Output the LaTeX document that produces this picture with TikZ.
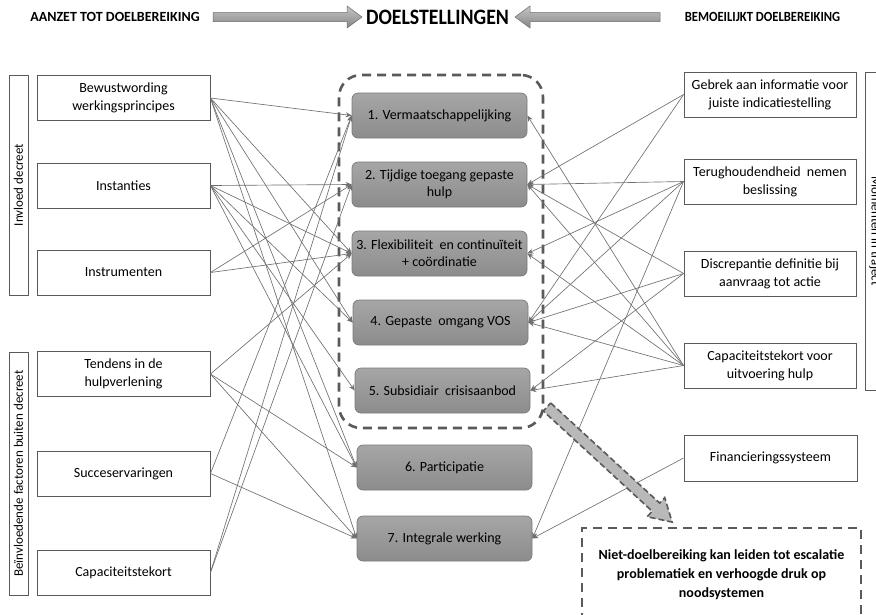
\documentclass[tikz,border=0pt]{standalone}
\usepackage{fontspec}
\setmainfont{Carlito}
\usetikzlibrary{arrows.meta}
\definecolor{edgec}{HTML}{707070}
\definecolor{boxc}{HTML}{5A5A5A}
\definecolor{dashc}{HTML}{5A5A5A}
\definecolor{ctop}{HTML}{A6A6A6}
\definecolor{cbot}{HTML}{8C8C8C}
\definecolor{cdraw}{HTML}{7A7A7A}
\begin{document}
\begin{tikzpicture}[x=1pt,y=-1pt,
  lbox/.style={draw=boxc, line width=0.9pt, fill=white, minimum width=173pt, minimum height=45pt, inner sep=1pt, align=center, font=\fontsize{14}{18}\selectfont},
  rbox/.style={lbox, minimum width=172pt},
  cbox/.style={draw=cdraw, line width=0.7pt, top color=ctop, bottom color=cbot, rounded corners=6pt, minimum width=175pt, minimum height=45pt, inner sep=1pt, align=center, font=\fontsize{14}{17}\selectfont},
  sbox/.style={draw=boxc, line width=0.9pt, fill=white, minimum height=19pt, inner sep=0pt, font=\fontsize{13}{15}\selectfont},
  conn/.style={draw=edgec, line width=0.65pt, -{Stealth[length=6pt,width=5pt]}},
  hdr/.style={font=\fontsize{14}{16}\selectfont\bfseries, inner sep=0pt},
  blockarrow/.style={draw=gray!85!black, line width=0.5pt, top color=gray!45, bottom color=gray!95, middle color=gray!70}
]
\useasboundingbox (0,0) rectangle (876,614);
\clip (0,0) rectangle (876,614);
\fill[white] (0,0) rectangle (876,614);

% header
\node[hdr] (aanzet) at (115,17) {AANZET TOT DOELBEREIKING};
\node[hdr, font=\fontsize{22}{24}\selectfont\bfseries, xscale=0.9] (doel) at (437.5,17) {DOELSTELLINGEN};
\node[hdr, xscale=0.9] (bemo) at (762.5,17) {BEMOEILIJKT DOELBEREIKING};
\draw[blockarrow] (213,12.5) -- (347,12.5) -- (347,6) -- (362,17) -- (347,28) -- (347,21.5) -- (213,21.5) -- cycle;
\draw[blockarrow] (660,12.5) -- (530,12.5) -- (530,6) -- (515,17) -- (530,28) -- (530,21.5) -- (660,21.5) -- cycle;

% side labels
\node[sbox, rotate=90, minimum width=220pt] (sl1) at (18.5,185) {Invloed decreet};
\node[sbox, rotate=90, minimum width=243pt] (sl2) at (18.5,473.5) {Beïnvloedende factoren buiten decreet};
\node[sbox, rotate=-90, minimum width=318pt, minimum height=20pt] (sr) at (875,231) {Momenten in traject};

% dashed container
\node[draw=dashc, line width=2.6pt, dash pattern=on 9pt off 6pt, rounded corners=22pt, minimum width=204pt, minimum height=353pt] (grp) at (441,251.5) {};

% left boxes
\node[lbox] (bew) at (123.5,98) {Bewustwording\\werkingsprincipes};
\node[lbox] (ins) at (123.5,185.5) {Instanties};
\node[lbox] (instr) at (123.5,272.5) {Instrumenten};
\node[lbox] (tend) at (123.5,374) {Tendens in de\\hulpverlening};
\node[lbox] (succ) at (123.5,473.5) {Succeservaringen};
\node[lbox] (capl) at (123.5,572.5) {Capaciteitstekort};

% right boxes
\node[rbox] (geb) at (770,94.5) {Gebrek aan informatie voor\\juiste indicatiestelling};
\node[rbox] (ter) at (770,181.5) {Terughoudendheid\ \ nemen\\beslissing};
\node[rbox] (dis) at (770,273.5) {Discrepantie\ definitie bij\\aanvraag tot actie};
\node[rbox] (capr) at (770,365.5) {Capaciteitstekort voor\\uitvoering hulp};
\node[rbox, minimum width=173pt, minimum height=46pt] (fin) at (770.5,458) {Financieringssysteem};

% centre boxes
\node[cbox] (c1) at (439.5,115.5) {1. Vermaatschappelijking};
\node[cbox] (c2) at (439.5,184.5) {2. Tijdige toegang gepaste\\hulp};
\node[cbox] (c3) at (439.5,253.5) {3. Flexibiliteit\ \ en continuïteit\\+ coördinatie};
\node[cbox] (c4) at (440.5,322.5) {4. Gepaste\ \ omgang VOS};
\node[cbox] (c5) at (442.5,390.5) {5. Subsidiair\ \ crisisaanbod};
\node[cbox] (c6) at (444.5,467.5) {6. Participatie};
\node[cbox] (c7) at (444.5,538.5) {7. Integrale werking};

% connectors from the left
\foreach \s/\t in {bew/c1,bew/c3,bew/c4,bew/c6,bew/c7,
                   ins/c2,ins/c3,ins/c4,ins/c5,ins/c6,
                   instr/c2,instr/c3,
                   tend/c3,tend/c6,tend/c7,
                   succ/c1,succ/c7,
                   capl/c1,capl/c2}
  \draw[conn] (\s.east) -- (\t.west);

% connectors from the right
\foreach \s/\t in {geb/c2,geb/c4,
                   ter/c2,ter/c3,ter/c4,ter/c7,
                   dis/c2,dis/c4,dis/c5,
                   capr/c1,capr/c2,capr/c3,capr/c4,capr/c5,
                   fin/c7}
  \draw[conn] (\s.west) -- (\t.east);

% big grey arrow
\begin{scope}[shift={(547,407)}, rotate=-42.6]
  \draw[draw=dashc, line width=1.6pt, dash pattern=on 6pt off 3pt, fill=gray!55]
    (0,-5.5) -- (148,-5.5) -- (148,-13) -- (170,0) -- (148,13) -- (148,5.5) -- (0,5.5) -- cycle;
\end{scope}

% dashed outcome box
\node[draw=dashc, line width=2.4pt, dash pattern=on 9pt off 6pt, fill=white, minimum width=279pt, minimum height=92pt, anchor=north, align=center, inner sep=2pt, font=\fontsize{14}{19}\selectfont\bfseries] (niet) at (721.5,527) {Niet-doelbereiking kan leiden tot escalatie\\problematiek en verhoogde druk op\\noodsystemen};
\end{tikzpicture}
\end{document}
